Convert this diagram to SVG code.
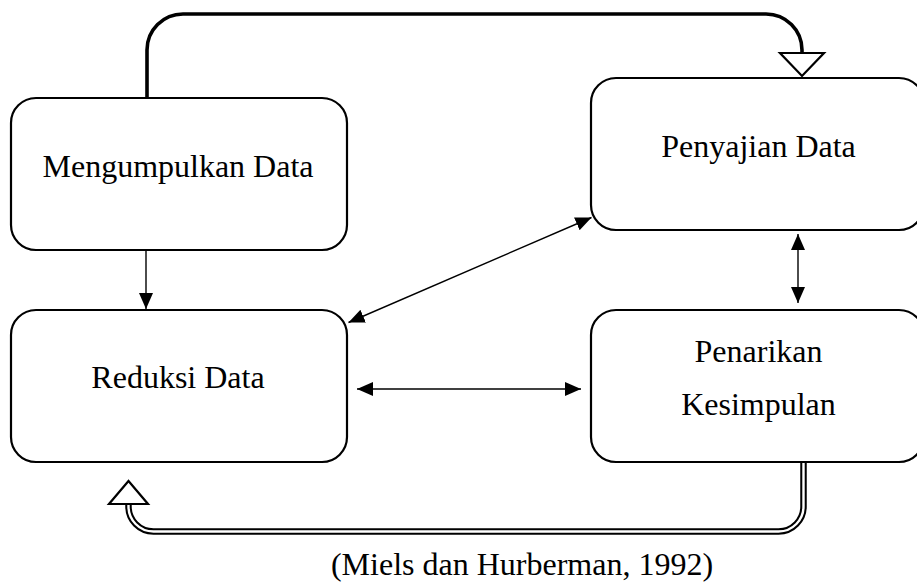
<svg xmlns="http://www.w3.org/2000/svg" width="917" height="582" viewBox="0 0 917 582">
<style>
.box{fill:#fff;stroke:#000;stroke-width:2.2}
.lbl{font-family:"Liberation Serif","Times New Roman",serif;font-size:32px;fill:#000;text-anchor:middle}
.thin{fill:none;stroke:#000;stroke-width:1.4;marker-start:url(#ah);marker-end:url(#ah)}
.one{fill:none;stroke:#000;stroke-width:1.4;marker-end:url(#ah)}
.thick{fill:none;stroke:#000;stroke-width:3.6}
.dblo{fill:none;stroke:#000;stroke-width:6.5}
.dbli{fill:none;stroke:#fff;stroke-width:2.4}
.open{fill:#fff;stroke:#000;stroke-width:2.2;stroke-linejoin:miter}
</style>
<defs>
<marker id="ah" markerUnits="userSpaceOnUse" markerWidth="17" markerHeight="15" refX="16" refY="7" orient="auto-start-reverse">
<path d="M0,0 L16,7 L0,14 z" fill="#000"/>
</marker>
</defs>
<g id="connectors">
<path class="thick" d="M147,98 V50 A36,36 0 0 1 183,14 H766 A36,36 0 0 1 802,50 V54"/>
<polygon class="open" points="780,53 824,53 802,76"/>
<path class="dblo" d="M803.5,461 V506 A25,25 0 0 1 778.5,531.5 H153.5 A25,25 0 0 1 128.5,506 V503"/>
<path class="dbli" d="M803.5,461 V506 A25,25 0 0 1 778.5,531.5 H153.5 A25,25 0 0 1 128.5,506 V503"/>
<polygon class="open" points="109,504 148,504 128.5,481"/>
<path class="one" d="M146,250 V309"/>
<path class="thin" d="M348.5,322.5 L591.5,217.5"/>
<path class="thin" d="M357,389 H581"/>
<path class="thin" d="M798,234 V303"/>
</g>
<g id="node-mengumpulkan">
<rect class="box" x="11" y="98" width="336" height="152" rx="25"/>
<text class="lbl" x="178" y="177">Mengumpulkan Data</text>
</g>
<g id="node-reduksi">
<rect class="box" x="11" y="310" width="336" height="152" rx="25"/>
<text class="lbl" x="178" y="388">Reduksi Data</text>
</g>
<g id="node-penyajian">
<rect class="box" x="591" y="78" width="333" height="152" rx="25"/>
<text class="lbl" x="758.5" y="157">Penyajian Data</text>
</g>
<g id="node-penarikan">
<rect class="box" x="591" y="310" width="333" height="152" rx="25"/>
<text class="lbl" x="758.5" y="362">Penarikan</text>
<text class="lbl" x="758.5" y="415">Kesimpulan</text>
</g>
<text class="lbl" x="522" y="575">(Miels dan Hurberman, 1992)</text>
</svg>
